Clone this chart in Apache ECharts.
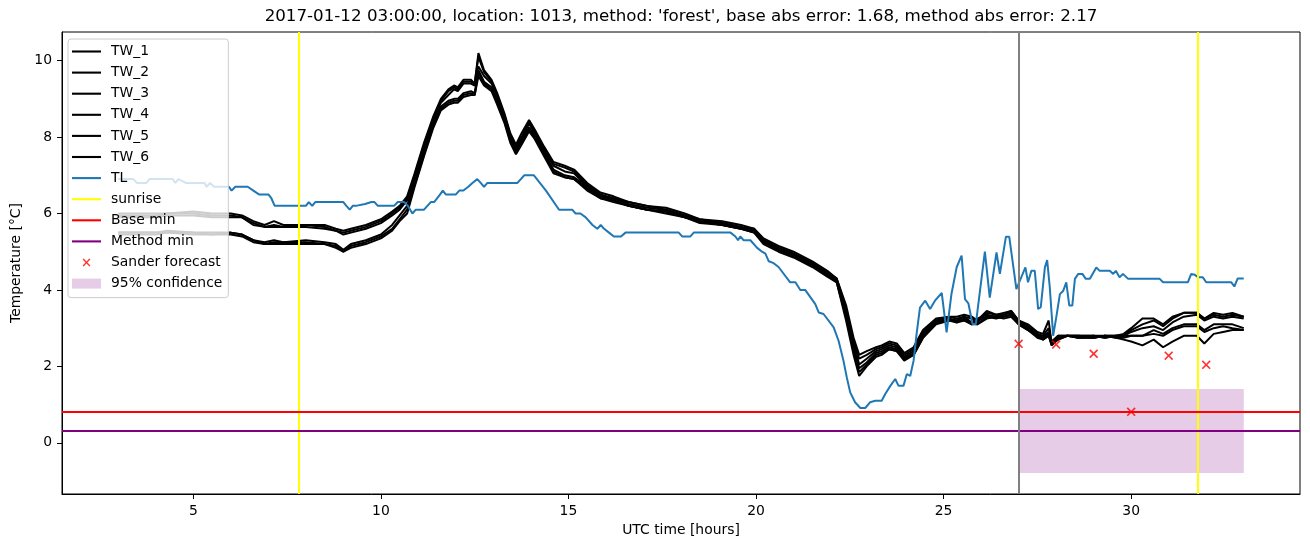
<!DOCTYPE html>
<html><head><meta charset="utf-8">
<script src="https://cdn.jsdelivr.net/npm/echarts@6/dist/echarts.min.js"></script>
<style>html,body{margin:0;padding:0;background:#fff}#c{width:1310px;height:547px}</style>
</head><body><div id="c"></div><script>
// ---------------- data ----------------
const titleText = "2017-01-12 03:00:00, location: 1013, method: 'forest', base abs error: 1.68, method abs error: 2.17";
const xTicks = [5, 10, 15, 20, 25, 30];
const yTicks = [0, 2, 4, 6, 8, 10];
const twNames = ['TW_1', 'TW_2', 'TW_3', 'TW_4', 'TW_5', 'TW_6'];
const twHours = [3.0,4.0,4.3,5.0,5.5,6.0,6.3,6.6,6.9,7.15,7.4,8.0,8.5,8.8,9.0,9.2,9.6,10.0,10.3,10.5,10.7,10.9,11.15,11.4,11.6,11.8,11.95,12.05,12.2,12.4,12.5,12.6,12.75,12.95,13.1,13.3,13.45,13.6,13.75,13.95,14.1,14.35,14.6,14.9,15.15,15.5,15.85,16.2,16.6,17.1,17.6,18.1,18.5,19.1,19.6,19.95,20.2,20.6,21.0,21.5,21.9,22.15,22.4,22.6,22.75,22.95,23.2,23.35,23.55,23.75,23.95,24.2,24.45,24.8,25.15,25.35,25.55,25.75,25.9,26.15,26.4,26.6,26.8,27.0,27.25,27.5,27.65,27.8,27.88,28.05,28.3,28.6,29.0,29.3,29.6,29.8,30.0,30.3,30.6,30.85,31.1,31.4,31.75,31.95,32.2,32.45,32.7,33.0];
const tw1 = [6.0,6.0,6.0,6.05,6.0,6.0,5.95,5.8,5.7,5.8,5.7,5.7,5.7,5.6,5.55,5.6,5.7,5.85,6.05,6.2,6.45,7.05,7.85,8.55,9.0,9.25,9.35,9.3,9.5,9.5,9.4,10.2,9.75,9.5,9.15,8.6,8.1,7.8,8.1,8.45,8.2,7.75,7.35,7.25,7.15,6.8,6.55,6.45,6.3,6.2,6.15,6.0,5.85,5.8,5.7,5.6,5.35,5.15,5.0,4.75,4.5,4.3,3.6,2.75,2.3,2.4,2.5,2.55,2.65,2.6,2.35,2.5,2.95,3.25,3.3,3.3,3.35,3.3,3.2,3.45,3.35,3.4,3.45,3.2,3.1,2.9,2.85,3.2,2.6,2.8,2.8,2.8,2.8,2.8,2.8,2.85,3.0,3.25,3.25,3.1,3.3,3.4,3.4,3.25,3.4,3.35,3.4,3.3];
const tw2 = [5.95,5.95,6.0,6.0,5.95,5.95,5.9,5.75,5.65,5.7,5.65,5.7,5.65,5.55,5.5,5.55,5.65,5.8,6.0,6.15,6.4,7.0,7.8,8.5,8.95,9.2,9.3,9.25,9.45,9.45,9.4,10.1,9.7,9.45,9.1,8.55,8.05,7.75,8.0,8.4,8.15,7.7,7.3,7.2,7.1,6.75,6.5,6.4,6.3,6.2,6.1,5.95,5.85,5.75,5.65,5.6,5.3,5.1,4.95,4.7,4.45,4.3,3.5,2.65,2.2,2.3,2.45,2.5,2.6,2.55,2.3,2.45,2.9,3.2,3.3,3.25,3.3,3.25,3.15,3.4,3.35,3.35,3.45,3.2,3.05,2.85,2.8,3.0,2.65,2.8,2.8,2.75,2.8,2.75,2.8,2.8,2.95,3.1,3.2,3.05,3.25,3.4,3.4,3.25,3.35,3.3,3.35,3.3];
const tw3 = [5.9,5.9,5.95,5.95,5.9,5.9,5.9,5.7,5.65,5.65,5.65,5.65,5.6,5.55,5.45,5.5,5.6,5.75,5.95,6.1,6.35,6.95,7.7,8.45,8.9,9.1,9.25,9.2,9.4,9.4,9.35,9.85,9.6,9.4,9.05,8.5,8.0,7.7,7.95,8.35,8.1,7.65,7.25,7.1,7.05,6.7,6.45,6.4,6.25,6.15,6.1,5.95,5.8,5.75,5.65,5.55,5.3,5.1,4.95,4.7,4.45,4.25,3.45,2.6,2.05,2.2,2.4,2.45,2.55,2.5,2.25,2.4,2.85,3.2,3.25,3.2,3.3,3.15,3.25,3.35,3.3,3.35,3.4,3.15,3.0,2.85,2.75,2.9,2.6,2.75,2.8,2.8,2.75,2.8,2.8,2.8,2.9,3.0,3.05,2.95,3.15,3.3,3.35,3.2,3.3,3.25,3.3,3.25];
const tw4 = [5.5,5.5,5.55,5.5,5.5,5.5,5.45,5.3,5.25,5.3,5.25,5.3,5.25,5.2,5.05,5.2,5.3,5.45,5.7,5.95,6.2,6.85,7.6,8.35,8.8,8.95,9.0,9.0,9.15,9.2,9.15,9.75,9.45,9.3,8.95,8.45,7.95,7.65,7.9,8.25,8.05,7.6,7.15,7.0,6.95,6.7,6.45,6.35,6.2,6.1,6.05,5.9,5.8,5.7,5.6,5.55,5.25,5.05,4.9,4.65,4.4,4.25,3.4,2.5,1.95,2.1,2.35,2.4,2.5,2.45,2.2,2.35,2.8,3.15,3.25,3.15,3.25,3.1,3.2,3.3,3.3,3.3,3.35,3.15,3.0,2.8,2.75,2.85,2.55,2.75,2.8,2.75,2.75,2.8,2.75,2.75,2.8,2.8,2.95,2.85,3.0,3.1,3.1,2.95,3.1,3.1,3.1,3.0];
const tw5 = [5.5,5.5,5.5,5.5,5.45,5.5,5.45,5.3,5.2,5.25,5.25,5.25,5.2,5.15,5.0,5.15,5.25,5.4,5.6,5.85,6.1,6.75,7.55,8.3,8.75,8.9,8.95,8.95,9.1,9.15,9.1,9.7,9.4,9.25,8.9,8.4,7.9,7.6,7.85,8.2,8.0,7.55,7.1,6.95,6.9,6.65,6.4,6.35,6.2,6.1,6.05,5.9,5.8,5.7,5.6,5.5,5.25,5.05,4.9,4.65,4.4,4.2,3.3,2.4,1.85,2.05,2.3,2.35,2.45,2.4,2.2,2.3,2.75,3.15,3.2,3.15,3.2,3.1,3.1,3.3,3.25,3.3,3.35,3.1,2.95,2.8,2.7,2.8,2.55,2.7,2.8,2.8,2.8,2.75,2.8,2.8,2.8,2.8,2.85,2.8,2.95,3.05,3.05,2.9,3.0,3.05,3.0,2.95];
const tw6 = [5.45,5.45,5.5,5.45,5.45,5.45,5.4,5.25,5.2,5.2,5.2,5.2,5.2,5.1,5.0,5.1,5.2,5.35,5.55,5.8,6.0,6.7,7.5,8.25,8.7,8.85,8.9,8.9,9.05,9.1,9.1,9.6,9.35,9.2,8.85,8.35,7.85,7.55,7.8,8.15,7.95,7.5,7.05,6.95,6.9,6.6,6.4,6.3,6.2,6.1,6.0,5.9,5.75,5.7,5.6,5.5,5.2,5.0,4.85,4.6,4.35,4.2,3.2,2.3,1.75,2.0,2.25,2.3,2.45,2.4,2.15,2.3,2.75,3.1,3.2,3.2,3.2,3.15,3.1,3.25,3.3,3.25,3.3,3.1,2.95,2.75,2.7,2.8,2.6,2.7,2.8,2.75,2.75,2.8,2.75,2.7,2.65,2.55,2.7,2.5,2.65,2.8,2.8,2.6,2.85,2.9,2.95,2.95];
const tlHours = [3.0,3.4,3.5,3.75,3.83,4.45,4.52,4.6,4.8,5.3,5.35,5.45,5.55,5.95,6.02,6.12,6.45,6.6,6.75,6.9,7.0,7.08,7.17,8.0,8.08,8.17,8.25,9.0,9.08,9.17,9.25,9.33,9.58,9.75,9.83,9.92,10.35,10.45,10.62,10.72,10.84,10.93,11.15,11.33,11.42,11.58,11.65,11.73,12.0,12.09,12.2,12.33,12.44,12.57,12.66,12.75,12.84,13.64,13.82,14.0,14.08,14.4,14.75,15.1,15.19,15.32,15.46,15.64,15.77,15.86,15.95,16.08,16.21,16.4,16.52,17.94,18.03,18.25,18.34,19.32,19.45,19.52,19.58,19.67,19.85,20.03,20.16,20.25,20.34,20.47,20.6,20.91,21.05,21.18,21.31,21.58,21.67,21.8,22.07,22.2,22.33,22.42,22.51,22.64,22.78,22.91,23.04,23.18,23.35,23.44,23.58,23.71,23.8,23.93,24.02,24.11,24.2,24.28,24.37,24.51,24.64,24.77,24.95,25.08,25.21,25.35,25.48,25.57,25.66,25.77,25.86,26.1,26.23,26.41,26.5,26.66,26.75,26.94,27.03,27.18,27.25,27.34,27.43,27.52,27.59,27.7,27.76,27.83,27.92,28.01,28.1,28.19,28.27,28.35,28.43,28.5,28.59,28.7,28.79,28.9,29.07,29.16,29.43,29.52,29.59,29.69,29.78,29.92,30.76,30.85,31.51,31.6,31.69,31.78,31.91,32.0,32.67,32.75,32.84,33.0];
const tlValues = [6.9,6.9,6.8,6.8,6.9,6.9,6.8,6.9,6.8,6.8,6.7,6.8,6.7,6.7,6.6,6.7,6.7,6.6,6.5,6.5,6.5,6.4,6.2,6.2,6.3,6.2,6.3,6.3,6.2,6.1,6.2,6.2,6.25,6.3,6.3,6.2,6.2,6.3,6.3,6.2,6.0,6.1,6.1,6.3,6.3,6.5,6.6,6.5,6.5,6.6,6.6,6.7,6.8,6.9,6.8,6.7,6.8,6.8,7.0,7.0,7.0,6.6,6.1,6.1,6.0,6.0,5.9,5.7,5.6,5.7,5.6,5.5,5.4,5.4,5.5,5.5,5.4,5.4,5.5,5.5,5.4,5.3,5.4,5.3,5.3,5.1,5.0,4.95,4.75,4.7,4.6,4.2,4.2,4.0,4.0,3.63,3.41,3.37,3.02,2.67,2.15,1.71,1.32,1.06,0.91,0.91,1.06,1.1,1.1,1.27,1.49,1.67,1.49,1.49,1.8,1.75,2.15,2.85,3.54,3.72,3.5,3.72,3.92,2.89,3.9,4.6,4.9,3.76,3.65,3.11,3.11,5.0,3.8,4.98,4.42,5.39,5.39,4.02,4.24,4.59,4.2,4.5,4.5,3.5,3.55,4.59,4.78,4.07,2.8,3.33,3.89,3.98,4.2,3.59,3.59,4.29,4.42,4.42,4.29,4.29,4.59,4.5,4.5,4.42,4.5,4.33,4.42,4.29,4.29,4.2,4.2,4.42,4.4,4.33,4.33,4.2,4.2,4.09,4.3,4.3];
const sunriseHours = [7.82, 31.77];
const forecastStartHour = [27.0];
const baseMin = [0.81];
const methodMin = [0.31];
const sanderHours = [27, 28, 29, 30, 31, 32];
const sanderValues = [2.59, 2.57, 2.33, 0.81, 2.28, 2.04];
const confidenceBand = [27, 33, -0.79, 1.41]; // x from, x to, lower, upper

// ---------------- chart ----------------
const FONT = 'DejaVu Sans';
const pairs = (xs, ys) => xs.map((x, i) => [x, ys[i]]);
const twValues = [tw1, tw2, tw3, tw4, tw5, tw6];
const X_PATH = 'M0,1.3L1.3,0L5,3.7L8.7,0L10,1.3L6.3,5L10,8.7L8.7,10L5,6.3L1.3,10L0,8.7L3.7,5Z';
const chart = echarts.init(document.getElementById('c'), null, {renderer: 'canvas'});

const series = [];
twNames.forEach((n, i) => series.push({
  name: n, type: 'line', data: pairs(twHours, twValues[i]), symbol: 'none', silent: true,
  lineStyle: {color: '#000000', width: 2}, itemStyle: {color: '#000000'}, z: 2
}));
series.push({
  name: 'TL', type: 'line', data: pairs(tlHours, tlValues), symbol: 'none', silent: true,
  lineStyle: {color: '#1f77b4', width: 2}, itemStyle: {color: '#1f77b4'}, z: 3
});
function vline(name, xs, color) {
  return {
    name: name, type: 'line', data: [], symbol: 'none', silent: true,
    lineStyle: {color: color, width: 2}, itemStyle: {color: color}, z: 4,
    markLine: {silent: true, symbol: ['none', 'none'], label: {show: false}, animation: false,
      lineStyle: {color: color, width: 2, type: 'solid'}, emphasis: {disabled: true},
      data: xs.map(v => ({xAxis: v}))}
  };
}
function hline(name, ys, color) {
  return {
    name: name, type: 'line', data: [], symbol: 'none', silent: true,
    lineStyle: {color: color, width: 2}, itemStyle: {color: color}, z: 4,
    markLine: {silent: true, symbol: ['none', 'none'], label: {show: false}, animation: false,
      lineStyle: {color: color, width: 2, type: 'solid'}, emphasis: {disabled: true},
      data: ys.map(v => ({yAxis: v}))}
  };
}
series.push(vline('sunrise', sunriseHours, '#ffff00'));
series.push(hline('Base min', baseMin, '#ff0000'));
series.push(hline('Method min', methodMin, '#800080'));
series.push({
  name: 'Sander forecast', type: 'scatter', data: pairs(sanderHours, sanderValues), silent: true,
  symbol: 'path://' + X_PATH, symbolSize: 9, itemStyle: {color: '#ff0000'}, z: 5
});
series.push(vline('forecast start', forecastStartHour, '#808080'));
series.push({
  name: '95% confidence', type: 'custom', silent: true, z: 1,
  itemStyle: {color: 'rgba(128,0,128,0.2)'},
  encode: {x: [0, 1], y: [2, 3]},
  data: [confidenceBand],
  renderItem: function (params, api) {
    const p0 = api.coord([api.value(0), api.value(3)]);
    const p1 = api.coord([api.value(1), api.value(2)]);
    return {type: 'rect', shape: {x: p0[0], y: p0[1], width: p1[0] - p0[0], height: p1[1] - p0[1]},
      style: {fill: 'rgba(128,0,128,0.2)'}};
  }
});

const lineIcon = 'path://M0,-7M0,7M0,-1.05L29,-1.05L29,1.05L0,1.05Z';
const legendData = twNames.concat(['TL', 'sunrise', 'Base min', 'Method min']).map(n => ({name: n, icon: lineIcon}));
legendData.push({name: 'Sander forecast', icon: 'path://M-4,-4M14,14' + X_PATH});
legendData.push({name: '95% confidence', icon: 'path://M0,-2M0,12M0,0L29,0L29,10L0,10Z'});

chart.setOption({
  animation: false,
  backgroundColor: '#ffffff',
  textStyle: {fontFamily: FONT},
  title: {
    text: titleText, left: 681, top: 8, textAlign: 'center', padding: 0,
    textStyle: {fontFamily: FONT, fontSize: 16.7, fontWeight: 'normal', color: '#000'}
  },
  grid: {left: 62, right: 10, top: 32, bottom: 53, show: true, borderColor: '#000', borderWidth: 1, backgroundColor: 'transparent', containLabel: false},
  legend: {
    orient: 'vertical', left: 68, top: 39, padding: [5.5, 6, 7, 4], itemGap: 7.1, itemWidth: 29, itemHeight: 14,
    backgroundColor: 'rgba(255,255,255,0.8)', borderColor: '#cccccc', borderWidth: 1, borderRadius: 3,
    selectedMode: false, z: 10,
    textStyle: {fontFamily: FONT, fontSize: 13.9, color: '#000', padding: [0, 0, 0, 5]},
    data: legendData
  },
  xAxis: {
    type: 'value', min: 1.5, max: 34.5,
    name: 'UTC time [hours]', nameLocation: 'middle', nameGap: 28,
    nameTextStyle: {fontFamily: FONT, fontSize: 13.9, color: '#000'},
    axisLine: {show: true, onZero: false, lineStyle: {color: '#000', width: 1}},
    axisTick: {show: true, length: 5, lineStyle: {color: '#000'}, customValues: xTicks},
    axisLabel: {color: '#000', fontFamily: FONT, fontSize: 13.9, margin: 10, customValues: xTicks},
    splitLine: {show: false}
  },
  yAxis: {
    type: 'value', min: -1.34, max: 10.75,
    name: 'Temperature [°C]', nameLocation: 'middle', nameGap: 36, nameRotate: 90,
    nameTextStyle: {fontFamily: FONT, fontSize: 13.9, color: '#000'},
    axisLine: {show: true, onZero: false, lineStyle: {color: '#000', width: 1}},
    axisTick: {show: true, length: 5, lineStyle: {color: '#000'}, customValues: yTicks},
    axisLabel: {color: '#000', fontFamily: FONT, fontSize: 13.9, margin: 10, customValues: yTicks},
    splitLine: {show: false}
  },
  series: series
});
</script></body></html>
